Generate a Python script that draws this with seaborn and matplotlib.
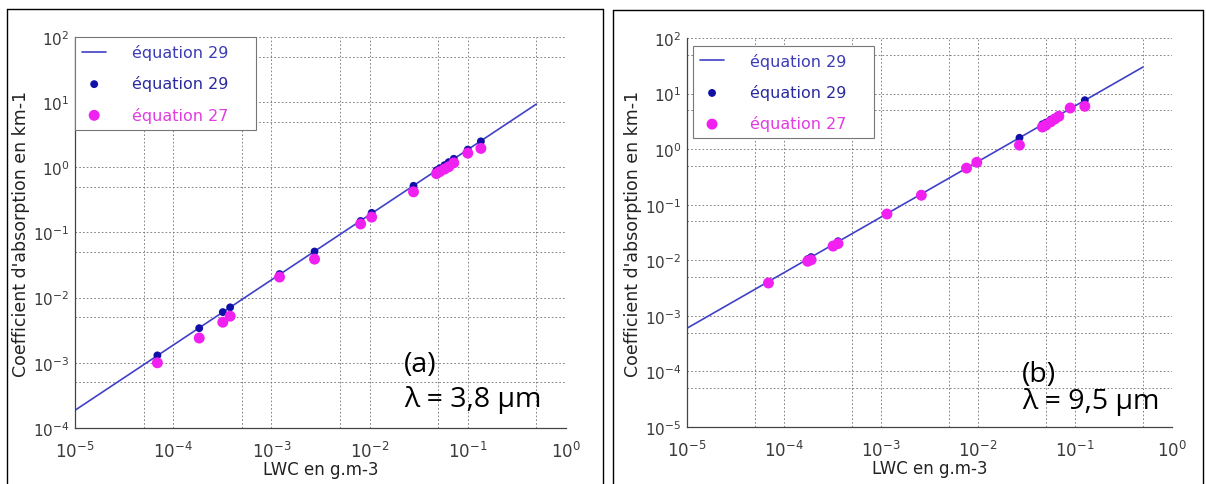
import numpy as np
import pandas as pd
import seaborn as sns
import matplotlib.pyplot as plt
from matplotlib.lines import Line2D
from matplotlib.ticker import LogLocator, NullFormatter

sns.set_style("white")
plt.rcParams["font.family"] = ["DejaVu Sans"]

# --- panel (a) : lambda = 3,8 um ---
line_lwc_a = [1e-5, 5e-1]
line_k_a = [1.87e-4, 9.35]
lwc_a = [6.9e-5, 1.84e-4, 3.2e-4, 3.8e-4, 1.21e-3, 2.75e-3, 8.1e-3, 1.05e-2,
         2.8e-2, 4.8e-2, 5.2e-2, 5.8e-2, 6.4e-2, 7.2e-2, 1.0e-1, 1.36e-1]
eq29_a = [1.3e-3, 3.4e-3, 6.0e-3, 7.1e-3, 2.3e-2, 5.1e-2, 0.15, 0.20,
          0.52, 0.90, 0.97, 1.08, 1.2, 1.35, 1.87, 2.5]
eq27_a = [1.0e-3, 2.4e-3, 4.2e-3, 5.2e-3, 2.07e-2, 3.9e-2, 0.135, 0.172,
          0.42, 0.80, 0.86, 0.94, 1.02, 1.17, 1.65, 1.95]

# --- panel (b) : lambda = 9,5 um ---
line_lwc_b = [1e-5, 5e-1]
line_k_b = [6.0e-4, 30.0]
lwc_b = [6.9e-5, 1.75e-4, 1.9e-4, 3.2e-4, 3.6e-4, 1.15e-3, 2.6e-3, 7.6e-3, 9.7e-3,
         2.67e-2, 4.6e-2, 5.0e-2, 5.6e-2, 6.2e-2, 6.8e-2, 8.9e-2, 1.26e-1]
eq29_b = [4.1e-3, 1.05e-2, 1.14e-2, 1.9e-2, 2.2e-2, 6.9e-2, 0.156, 0.46, 0.58,
          1.6, 2.8, 3.0, 3.4, 3.7, 4.1, 5.3, 7.6]
eq27_b = [3.9e-3, 9.6e-3, 1.02e-2, 1.8e-2, 2.0e-2, 6.8e-2, 0.148, 0.455, 0.58,
          1.18, 2.5, 2.7, 3.1, 3.5, 3.9, 5.5, 5.9]

legend_labels = ["équation 29", "équation 29", "équation 27"]
legend_colors = ["#3c3cb4", "#2a2aa0", "#e03ce0"]
line_color = "#4040c8"
dot_color = "#1010a8"
mag_color = "#f020f0"

fig = plt.figure(figsize=(12.06, 4.85), dpi=100)
ax_a = fig.add_axes([0.0622, 0.1155, 0.4071, 0.8062])
ax_b = fig.add_axes([0.5697, 0.1175, 0.4022, 0.8021])


def draw_panel(ax, lx, ly, lwc, k29, k27, ylim, tag, lam, tag_pos, leg_anchor):
    ax.set(xscale="log", yscale="log")
    sns.lineplot(x=lx, y=ly, color=line_color, lw=1.2, estimator=None,
                 ax=ax, label=legend_labels[0])
    sns.scatterplot(x=lwc, y=k29, color=dot_color, s=32, edgecolor="none",
                    ax=ax, label=legend_labels[1], zorder=3)
    sns.scatterplot(x=lwc, y=k27, color=mag_color, s=62, edgecolor="none",
                    ax=ax, label=legend_labels[2], zorder=4)
    ax.set_xlim(1e-5, 1e0)
    ax.set_ylim(*ylim)

    for axis in (ax.xaxis, ax.yaxis):
        axis.set_major_locator(LogLocator(base=10, numticks=20))
        axis.set_minor_locator(LogLocator(base=10, subs=[5], numticks=20))
        axis.set_minor_formatter(NullFormatter())
    ax.grid(which="both", ls=(0, (2, 2.5)), color="#707070", lw=0.6)
    ax.tick_params(which="major", direction="in", length=4, width=0.8,
                   color="#444444", labelcolor="#3a3a3a")
    ax.tick_params(axis="x", which="major", pad=9, labelsize=12)
    ax.tick_params(axis="y", which="major", pad=4, labelsize=11)
    ax.tick_params(which="minor", direction="in", length=2.5, width=0.7,
                   color="#444444")
    for side in ["top", "right"]:
        ax.spines[side].set_visible(False)
    for side in ["left", "bottom"]:
        ax.spines[side].set_color("#444444")
        ax.spines[side].set_linewidth(0.9)

    ax.set_xlabel("LWC en g.m-3", fontsize=12, color="#222222")
    ax.set_ylabel("Coefficient d'absorption en km-1", fontsize=12.5, color="#222222")
    ax.xaxis.set_label_coords(0.5, -0.083)
    ax.yaxis.set_label_coords(-0.092, 0.5)

    handles, _ = ax.get_legend_handles_labels()
    leg = ax.legend(handles, [l + "    " for l in legend_labels], loc="upper left",
                    bbox_to_anchor=leg_anchor, borderaxespad=0, fontsize=11.5,
                    fancybox=False, framealpha=1, edgecolor="#777777",
                    handlelength=1.5, handletextpad=1.6, labelspacing=0.95,
                    borderpad=0.45)
    leg.get_frame().set_linewidth(0.8)
    for t, c in zip(leg.get_texts(), legend_colors):
        t.set_color(c)

    ax.text(tag_pos[0], tag_pos[1], tag, transform=ax.transAxes, fontsize=20.5,
            family="Open Sans", va="center", ha="left", color="black")
    ax.text(tag_pos[0], tag_pos[2], lam, transform=ax.transAxes, fontsize=20.5,
            family="Open Sans", va="center", ha="left", color="black")


draw_panel(ax_a, line_lwc_a, line_k_a, lwc_a, eq29_a, eq27_a, (1e-4, 1e2),
           "(a)", "λ = 3,8 µm", (0.67, 0.164, 0.074), (0.0, 1.0))
draw_panel(ax_b, line_lwc_b, line_k_b, lwc_b, eq29_b, eq27_b, (1e-5, 1e2),
           "(b)", "λ = 9,5 µm", (0.69, 0.136, 0.067), (0.012, 0.98))

# table cell borders around each figure
for x0, x1, top in [(0.0058, 0.5, 0.979), (0.5083, 0.9975, 0.977)]:
    fig.add_artist(Line2D([x0, x0], [0, top], color="black", lw=1.0))
    fig.add_artist(Line2D([x1, x1], [0, top], color="black", lw=1.0))
    fig.add_artist(Line2D([x0, x1], [top, top], color="black", lw=1.0))

fig.savefig("out.png", dpi=100)
